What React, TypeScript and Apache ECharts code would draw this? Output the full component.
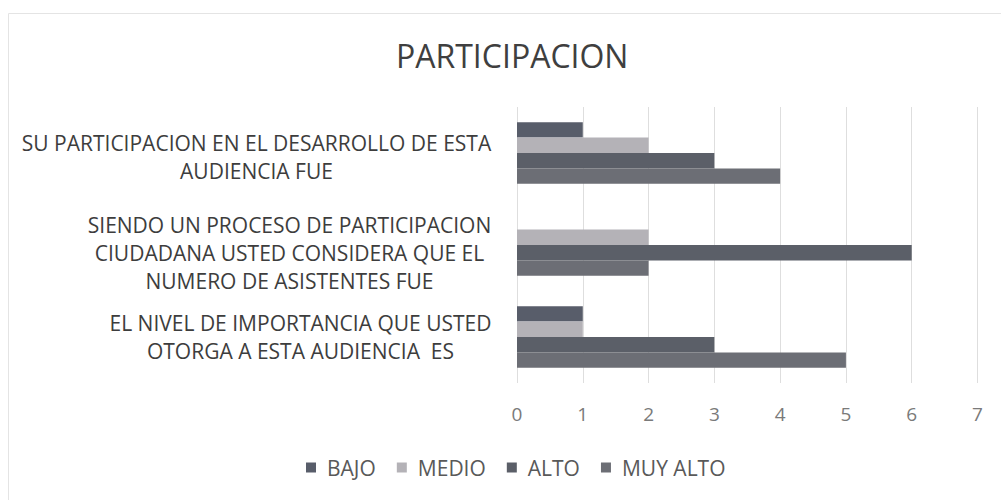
import React, { useEffect, useRef } from "react";
import * as echarts from "echarts";

const title = "PARTICIPACION";
const categories = [
  "SU PARTICIPACION EN EL DESARROLLO DE ESTA\nAUDIENCIA FUE",
  "SIENDO UN PROCESO DE PARTICIPACION\nCIUDADANA USTED CONSIDERA QUE EL\nNUMERO DE ASISTENTES FUE",
  "EL NIVEL DE IMPORTANCIA QUE USTED\nOTORGA A ESTA AUDIENCIA  ES",
];
const seriesNames = ["BAJO", "MEDIO", "ALTO", "MUY ALTO"];
const bajo = [1, 0, 1];
const medio = [2, 2, 1];
const alto = [3, 6, 3];
const muyAlto = [4, 2, 5];
const xMin = 0;
const xMax = 7;
const xInterval = 1;

const seriesValues = [bajo, medio, alto, muyAlto];
const colors = ["#585d6a", "#b4b2b7", "#5b5f68", "#6c6e75"];
const labelShift = [4, 8, 0];
const FONT = '"Open Sans", "Noto Sans", sans-serif';
const LABEL_SIZE = 21;
const LINE_H = 28;

function measure(text: string, font: string): number {
  const ctx = document.createElement("canvas").getContext("2d");
  if (!ctx) return text.length * 11;
  ctx.font = font;
  return ctx.measureText(text).width;
}

export default function App() {
  const ref = useRef<HTMLDivElement>(null);
  useEffect(() => {
    if (!ref.current) return;
    const chart = echarts.init(ref.current, undefined, { renderer: "svg" });
    const rich: Record<string, any> = {};
    categories.forEach((c, i) => {
      const w = Math.max(
        ...c.split("\n").map((l) => measure(l, `${LABEL_SIZE}px "Open Sans"`))
      );
      rich["c" + i] = {
        width: Math.ceil(w) + 1,
        align: "center",
        fontSize: LABEL_SIZE,
        fontFamily: FONT,
        color: "#3d3d3d",
        lineHeight: LINE_H,
      };
    });
    chart.setOption({
      animation: false,
      backgroundColor: "#ffffff",
      title: {
        text: title,
        left: 391,
        top: 34,
        textStyle: {
          fontFamily: FONT,
          fontSize: 32,
          fontWeight: "normal",
          color: "#3f3f3f",
        },
      },
      legend: {
        data: seriesNames,
        left: 301,
        top: 452,
        itemWidth: 10,
        itemHeight: 10,
        itemGap: 21,
        icon: "rect",
        textStyle: {
          fontFamily: FONT,
          fontSize: 21,
          color: "#595959",
          padding: [0, 0, 0, 6],
        },
      },
      grid: {
        left: 517,
        right: 23.5,
        top: 107,
        bottom: 117,
        containLabel: false,
      },
      xAxis: {
        type: "value",
        min: xMin,
        max: xMax,
        interval: xInterval,
        axisLine: { show: false },
        axisTick: { show: false },
        splitLine: { show: true, lineStyle: { color: "#dedede", width: 1 } },
        axisLabel: {
          margin: 21,
          fontFamily: FONT,
          fontSize: 19,
          color: "#7a7a7a",
        },
      },
      yAxis: {
        type: "category",
        inverse: true,
        data: categories.map((c, i) => ({
          value: c,
          textStyle: { padding: [2 * labelShift[i], 0, 0, 0] },
        })),
        axisLine: { show: false },
        axisTick: { show: false },
        splitLine: { show: false },
        axisLabel: {
          margin: 25,
          align: "right",
          formatter: (value: string, idx: number) =>
            value
              .split("\n")
              .map((l) => `{c${idx}|${l}}`)
              .join("\n"),
          rich,
        },
      },
      graphic: [
        {
          type: "polyline",
          shape: {
            points: [
              [8.5, 500],
              [8.5, 13.5],
              [1001, 13.5],
            ],
          },
          style: { stroke: "#e4e4e4", fill: null, lineWidth: 1 },
          silent: true,
        },
      ],
      series: seriesNames.map((name, i) => ({
        name,
        type: "bar",
        data: seriesValues[i],
        barGap: "0%",
        barCategoryGap: "33%",
        itemStyle: { color: colors[i] },
      })),
    });
    return () => chart.dispose();
  }, []);
  return (
    <div
      ref={ref}
      style={{
        position: "absolute",
        left: 0,
        top: 0,
        width: 1001,
        height: 500,
        background: "#fff",
      }}
    />
  );
}
